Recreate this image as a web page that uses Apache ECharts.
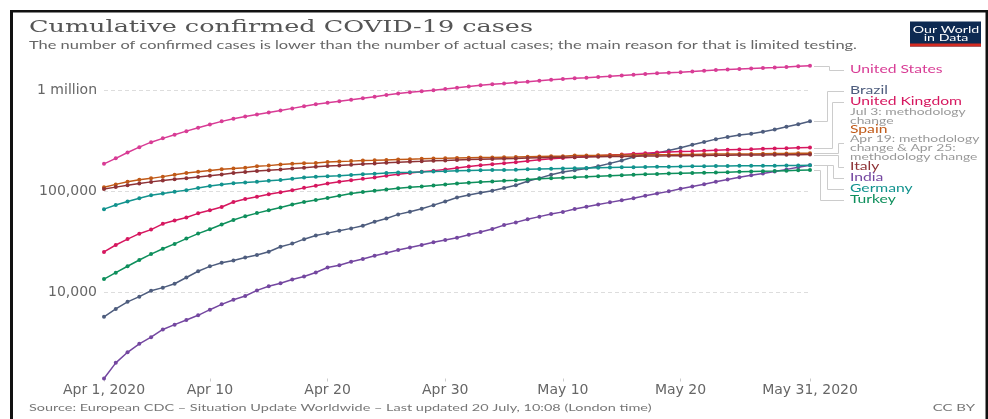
<!DOCTYPE html>
<html>
<head>
<meta charset="utf-8">
<script src="https://cdn.jsdelivr.net/npm/echarts@6/dist/echarts.min.js"></script>
<style>
  html, body { margin: 0; padding: 0; background: #fff; }
  #chart { width: 988px; height: 419px; }
</style>
</head>
<body>
<div id="chart"></div>
<script>
// Cumulative confirmed COVID-19 cases, one value per day from 1 April to 31 May 2020
const firstDay = Date.UTC(2020, 3, 1);
const dayCount = 61;

const unitedStates = [
  188172, 213242, 243622, 275367, 308650, 336802, 366317, 397121, 428654, 462780,
  496535, 526396, 555313, 580619, 607670, 636350, 667801, 699706, 732197, 759086,
  784326, 811865, 840351, 869170, 905333, 938154, 965785, 988197, 1012582, 1039909,
  1069424, 1103461, 1132539, 1158040, 1180375, 1204351, 1228603, 1257023, 1283929, 1309550,
  1329260, 1347881, 1369376, 1390406, 1417774, 1442824, 1467820, 1486757, 1508308, 1528568,
  1551853, 1577147, 1600937, 1622612, 1643246, 1662302, 1680913, 1699176, 1721750, 1747087,
  1770384
];
const brazil = [
  5717, 6836, 8044, 9056, 10360, 11130, 12161, 14034, 16170, 18092,
  19638, 20727, 22192, 23430, 25262, 28320, 30425, 33682, 36658, 38654,
  40743, 43079, 45757, 50036, 54043, 59324, 63100, 67446, 73235, 79685,
  87187, 92202, 97100, 101826, 108620, 115455, 126611, 135773, 146894, 156061,
  162699, 169594, 178214, 190137, 203165, 220291, 233511, 241080, 255368, 271885,
  291579, 310087, 330890, 347398, 363211, 374898, 391222, 411821, 438238, 465166,
  498440
];
const unitedKingdom = [
  25150, 29474, 33718, 38168, 41903, 47806, 51608, 55242, 60733, 65077,
  70272, 78758, 84279, 88621, 93873, 98476, 103093, 108692, 114217, 120067,
  124743, 129044, 133495, 138078, 143464, 148377, 152840, 157149, 161145, 165221,
  171253, 177454, 182260, 186599, 190584, 194990, 201101, 206715, 211364, 215260,
  219183, 223060, 226463, 229705, 233151, 236711, 240161, 243695, 246406, 248818,
  250908, 254195, 257154, 259559, 261184, 262547, 265227, 267240, 269127, 271222,
  272826
];
const spain = [
  110238, 117710, 124736, 130759, 135032, 140510, 146690, 152446, 157022, 161852,
  166019, 169496, 172541, 177644, 180659, 184948, 188068, 190839, 191726, 195944,
  198674, 200210, 202990, 204178, 205905, 207634, 209465, 210773, 212917, 213435,
  215216, 216582, 217466, 218011, 219329, 220325, 221447, 222857, 223578, 224350,
  227436, 228030, 228691, 229540, 230183, 230698, 231350, 231606, 232037, 232555,
  233037, 234824, 235290, 235772, 236000, 236259, 237100, 237906, 238564, 239228,
  239479
];
const italy = [
  105792, 110574, 115242, 119827, 124632, 128948, 132547, 135586, 139422, 143626,
  147577, 152271, 156363, 159516, 162488, 165155, 168941, 172434, 175925, 178972,
  181228, 183957, 187327, 189973, 192994, 195351, 197675, 199414, 201505, 203591,
  205463, 207428, 209328, 210717, 211938, 213013, 214457, 215858, 217185, 218268,
  219070, 219814, 221216, 222104, 223096, 223885, 224760, 225435, 225886, 226699,
  227364, 228006, 228658, 229327, 229858, 230158, 230555, 231139, 231732, 232248,
  232664
];
const india = [
  1397, 1998, 2543, 3082, 3588, 4281, 4778, 5311, 5916, 6725,
  7598, 8446, 9205, 10453, 11487, 12322, 13430, 14352, 15722, 17615,
  18539, 20080, 21370, 23077, 24530, 26283, 27890, 29451, 31324, 33062,
  34863, 37257, 39699, 42505, 46437, 49400, 52987, 56351, 59695, 62808,
  67161, 70768, 74292, 78055, 81997, 85784, 90648, 95698, 100328, 106475,
  112028, 118226, 124794, 131423, 138536, 144950, 150793, 158086, 165799, 173763,
  182143
];
const germany = [
  66885, 73522, 79696, 85778, 91714, 95391, 99225, 103228, 108202, 113525,
  117658, 120479, 123016, 125098, 127584, 130450, 133830, 137439, 139897, 141672,
  143457, 145694, 148046, 150383, 152438, 154175, 155193, 156337, 157641, 159119,
  160758, 161703, 162496, 163175, 163860, 164807, 166091, 167300, 168551, 169575,
  170508, 171306, 172239, 173152, 174098, 174478, 175233, 175752, 176369, 177289,
  178281, 178570, 179002, 179364, 179717, 179986, 180328, 180600, 181200, 181524,
  181815
];
const turkey = [
  13531, 15679, 18135, 20921, 23934, 27069, 30217, 34109, 38226, 42282,
  47029, 52167, 56956, 61049, 65111, 69392, 74193, 78546, 82329, 86306,
  90980, 95591, 98674, 101790, 104912, 107773, 110130, 112261, 114653, 117589,
  120204, 122392, 124375, 126045, 127659, 129491, 131744, 133721, 135569, 137115,
  138657, 139771, 141475, 143114, 144749, 146457, 148067, 149435, 150593, 151615,
  152587, 153548, 154500, 155686, 156827, 157814, 158762, 159797, 160979, 162120,
  163103
];

// Axis tick labels
const xTickDates = ['2020-04-01', '2020-04-10', '2020-04-20', '2020-04-30', '2020-05-10', '2020-05-20', '2020-05-31'];
const xTickLabels = ['Apr 1, 2020', 'Apr 10', 'Apr 20', 'Apr 30', 'May 10', 'May 20', 'May 31, 2020'];
const yTickValues = [10000, 100000, 1000000];
const yTickLabels = ['10,000', '100,000', '1 million'];

// Day categories
const dates = [];
for (let i = 0; i < dayCount; i++) {
  dates.push(new Date(firstDay + i * 86400000).toISOString().slice(0, 10));
}

const countries = [
  { name: 'United States', data: unitedStates, color: '#D83C95' },
  { name: 'Brazil', data: brazil, color: '#4E5D7E' },
  { name: 'United Kingdom', data: unitedKingdom, color: '#D6175F' },
  { name: 'Spain', data: spain, color: '#C05917' },
  { name: 'Italy', data: italy, color: '#8E3236' },
  { name: 'India', data: india, color: '#7447A0' },
  { name: 'Germany', data: germany, color: '#12938E' },
  { name: 'Turkey', data: turkey, color: '#0E8F5C' }
];

const isTickDay = (idx, val) => xTickDates.indexOf(val) >= 0;

const chart = echarts.init(document.getElementById('chart'), null, { renderer: 'canvas' });

chart.setOption({
  animation: false,
  backgroundColor: '#ffffff',
  grid: { left: 104, right: 178, top: 65.7, bottom: 40.5 },
  xAxis: {
    type: 'category',
    data: dates,
    boundaryGap: false,
    axisLine: { show: false },
    axisTick: { show: true, interval: isTickDay, length: 3, lineStyle: { color: '#cccccc' } },
    axisLabel: {
      interval: isTickDay,
      formatter: v => xTickLabels[xTickDates.indexOf(v)] || '',
      margin: 5,
      color: '#666666',
      fontFamily: 'DejaVu Sans',
      fontSize: 14
    },
    splitLine: { show: false }
  },
  yAxis: {
    type: 'log',
    logBase: 10,
    min: 'dataMin',
    max: 'dataMax',
    axisLine: { show: false },
    axisTick: { show: false },
    axisLabel: {
      showMinLabel: false,
      showMaxLabel: false,
      formatter: v => {
        const i = yTickValues.findIndex(t => Math.abs(t - v) / t < 1e-6);
        return i < 0 ? '' : yTickLabels[i];
      },
      margin: 7,
      color: '#666666',
      fontFamily: 'DejaVu Sans',
      fontSize: 14
    },
    splitLine: {
      show: true,
      showMinLine: false,
      showMaxLine: false,
      lineStyle: { type: [4, 3], color: '#dddddd', width: 1 }
    }
  },
  series: countries.map(c => ({
    type: 'line',
    name: c.name,
    data: c.data,
    symbol: 'circle',
    symbolSize: 4,
    showSymbol: true,
    lineStyle: { width: 1.5, color: c.color },
    itemStyle: { color: c.color },
    emphasis: { disabled: true },
    silent: true
  }))
});

// ---- Text, branding and the labelled line ends ----
const SANS = 'Lato, "Noto Sans", sans-serif';
const SERIF = '"DejaVu Serif", serif';
const measureCtx = document.createElement('canvas').getContext('2d');
function textWidth(str, font) { measureCtx.font = font; return measureCtx.measureText(str).width; }

const titleText = 'Cumulative confirmed COVID-19 cases';
const subtitleText = 'The number of confirmed cases is lower than the number of actual cases; the main reason for that is limited testing.';
const sourceText = 'Source: European CDC \u2013 Situation Update Worldwide \u2013 Last updated 20 July, 10:08 (London time)';

const titleFont = '17px ' + SERIF;
const subFont = '11px ' + SANS;
const titleScale = 504 / textWidth(titleText, titleFont);
const sansScale = 828 / textWidth(subtitleText, subFont);

function txt(text, x, y, font, color, align, scale) {
  return {
    type: 'text', x: x, y: y, scaleX: scale || sansScale, silent: true, z: 20,
    style: { text: text, font: font, fill: color, textAlign: align || 'left', textVerticalAlign: 'middle' }
  };
}

const graphics = [
  // frame
  { type: 'rect', shape: { x: 10, y: 10, width: 978, height: 2.5 }, style: { fill: '#111' }, silent: true },
  { type: 'rect', shape: { x: 10, y: 10, width: 3, height: 409 }, style: { fill: '#111' }, silent: true },
  { type: 'rect', shape: { x: 985.5, y: 10, width: 2.5, height: 409 }, style: { fill: '#111' }, silent: true },
  // heading
  txt(titleText, 29, 28, titleFont, '#555555', 'left', titleScale),
  txt(subtitleText, 29, 45.5, subFont, '#666666'),
  // logo
  { type: 'rect', shape: { x: 910, y: 21.5, width: 71, height: 25 }, style: { fill: '#0d2a52' }, silent: true },
  { type: 'rect', shape: { x: 910, y: 43.5, width: 71, height: 3 }, style: { fill: '#d42b21' }, silent: true },
  txt('Our World', 946, 29.5, '9.5px ' + SANS, '#ffffff', 'center'),
  txt('in Data', 946, 37.5, '9.5px ' + SANS, '#ffffff', 'center'),
  // footer
  txt(sourceText, 29, 408, '9.7px ' + SANS, '#777777'),
  txt('CC BY', 975, 408, '10px ' + SANS, '#777777', 'right')
];

// Label block on the right: entity names and notes
const labelX = 850;
const noteColor = '#999999';
const nameFont = '10.5px ' + SANS;
const noteFont = '9.3px ' + SANS;
const labelLines = [
  { text: 'United States', y: 70, color: countries[0].color, font: nameFont },
  { text: 'Brazil', y: 90.5, color: countries[1].color, font: nameFont },
  { text: 'United Kingdom', y: 102, color: countries[2].color, font: nameFont },
  { text: 'Jul 3: methodology', y: 111.5, color: noteColor, font: noteFont },
  { text: 'change', y: 120.5, color: noteColor, font: noteFont },
  { text: 'Spain', y: 130, color: countries[3].color, font: nameFont },
  { text: 'Apr 19: methodology', y: 139.3, color: noteColor, font: noteFont },
  { text: 'change & Apr 25:', y: 148.3, color: noteColor, font: noteFont },
  { text: 'methodology change', y: 157.3, color: noteColor, font: noteFont },
  { text: 'Italy', y: 167, color: countries[4].color, font: nameFont },
  { text: 'India', y: 178, color: countries[5].color, font: nameFont },
  { text: 'Germany', y: 189, color: countries[6].color, font: nameFont },
  { text: 'Turkey', y: 199.5, color: countries[7].color, font: nameFont }
];
labelLines.forEach(l => graphics.push(txt(l.text, labelX, l.y, l.font, l.color)));

// Connector elbows: [country index, elbow x, label anchor y]
const connectors = [
  [0, 829, 70], [1, 827, 90.5], [2, 832, 102], [3, 838, 143],
  [4, 838, 167], [5, 833, 178], [6, 827, 189], [7, 820, 199.5]
];
const lastDay = dates[dates.length - 1];
connectors.forEach(([ci, ex, ly]) => {
  const d = countries[ci].data;
  const p = chart.convertToPixel({ xAxisIndex: 0, yAxisIndex: 0 }, [lastDay, d[d.length - 1]]);
  const py = Math.round(p[1]) + 0.5;
  const yy = Math.round(ly) + 0.5;
  const xx = Math.round(ex) + 0.5;
  graphics.push({
    type: 'polyline', silent: true, z: 5,
    shape: { points: [[p[0] + 4, py], [xx, py], [xx, yy], [labelX - 6, yy]] },
    style: { stroke: '#cccccc', fill: null, lineWidth: 1 }
  });
});

chart.setOption({ graphic: { elements: graphics } });
</script>
</body>
</html>
